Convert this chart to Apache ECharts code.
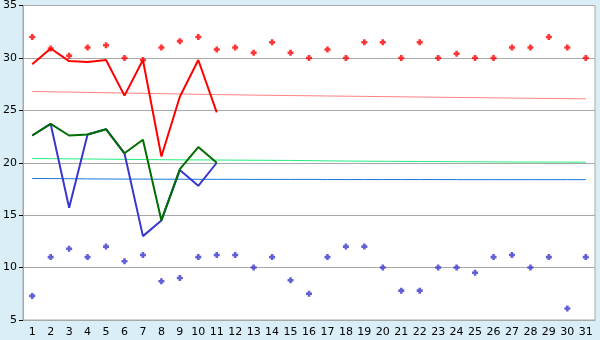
<!DOCTYPE html>
<html>
<head>
<meta charset="utf-8">
<script src="https://cdn.jsdelivr.net/npm/echarts@6/dist/echarts.min.js"></script>
<style>
html,body{margin:0;padding:0;background:#d9eef6;}
#chart{width:600px;height:340px;}
</style>
</head>
<body>
<div id="chart"></div>
<script>
var days = ['1','2','3','4','5','6','7','8','9','10','11','12','13','14','15','16','17','18','19','20','21','22','23','24','25','26','27','28','29','30','31'];
var yTicks = [5, 10, 15, 20, 25, 30, 35];

var maxDots = [32.0, 30.9, 30.2, 31.0, 31.2, 30.0, 29.8, 31.0, 31.6, 32.0, 30.8, 31.0, 30.5, 31.5, 30.5, 30.0, 30.8, 30.0, 31.5, 31.5, 30.0, 31.5, 30.0, 30.4, 30.0, 30.0, 31.0, 31.0, 32.0, 31.0, 30.0];
var minDots = [7.3, 11.0, 11.8, 11.0, 12.0, 10.6, 11.2, 8.7, 9.0, 11.0, 11.2, 11.2, 10.0, 11.0, 8.8, 7.5, 11.0, 12.0, 12.0, 10.0, 7.8, 7.8, 10.0, 10.0, 9.5, 11.0, 11.2, 10.0, 11.0, 6.1, 11.0];

var redLine = [29.4, 30.9, 29.7, 29.6, 29.8, 26.4, 29.8, 20.6, 26.3, 29.8, 24.8];
var greenLine = [22.6, 23.7, 22.6, 22.7, 23.2, 20.9, 22.2, 14.5, 19.4, 21.5, 20.0];
var blueLine = [22.6, 23.7, 15.7, 22.7, 23.2, 20.9, 13.0, 14.5, 19.3, 17.8, 20.0];

var pinkRef = [26.80, 26.77, 26.74, 26.71, 26.68, 26.65, 26.62, 26.59, 26.56, 26.53, 26.50, 26.48, 26.45, 26.43, 26.41, 26.39, 26.37, 26.35, 26.33, 26.31, 26.29, 26.27, 26.25, 26.23, 26.21, 26.19, 26.17, 26.15, 26.13, 26.11, 26.10];
var greenRef = [20.40, 20.39, 20.37, 20.36, 20.34, 20.32, 20.31, 20.29, 20.28, 20.27, 20.26, 20.25, 20.24, 20.23, 20.22, 20.20, 20.18, 20.16, 20.15, 20.14, 20.13, 20.12, 20.11, 20.10, 20.09, 20.08, 20.07, 20.07, 20.06, 20.06, 20.05];
var blueRef = [18.50, 18.49, 18.48, 18.46, 18.45, 18.44, 18.44, 18.43, 18.43, 18.42, 18.42, 18.42, 18.41, 18.41, 18.41, 18.41, 18.40, 18.40, 18.40, 18.40, 18.40, 18.40, 18.40, 18.39, 18.39, 18.39, 18.39, 18.39, 18.39, 18.39, 18.39];

var plus = 'path://M2,0L5,0L5,2L7,2L7,5L5,5L5,7L2,7L2,5L0,5L0,2L2,2Z';
var font = 'DejaVu Sans';

var chart = echarts.init(document.getElementById('chart'), null, {renderer: 'canvas'});
function lineSeries(data, color, width, z) {
  return {type: 'line', data: data, symbol: 'none', z: z, animation: false,
    lineStyle: {color: color, width: width}, itemStyle: {color: color}};
}
chart.setOption({
  backgroundColor: '#d9eef6',
  animation: false,
  grid: {left: 20, right: 5, top: 5, bottom: 20, show: true, backgroundColor: '#ffffff', borderColor: '#a8a8a8', borderWidth: 1},
  xAxis: {
    type: 'category', data: days, boundaryGap: true,
    axisLine: {lineStyle: {color: '#a8a8a8'}},
    axisTick: {alignWithLabel: true, length: 5, lineStyle: {color: '#000000'}},
    axisLabel: {color: '#000000', fontFamily: font, fontSize: 11, margin: 7, interval: 0},
    splitLine: {show: false}
  },
  yAxis: {
    type: 'value', min: yTicks[0], max: yTicks[yTicks.length - 1], interval: yTicks[1] - yTicks[0],
    axisLine: {show: true, lineStyle: {color: '#a8a8a8'}},
    axisTick: {show: true, length: 4, lineStyle: {color: '#000000'}},
    axisLabel: {color: '#000000', fontFamily: font, fontSize: 11, margin: 6},
    splitLine: {show: true, lineStyle: {color: '#a8a8a8', width: 1}}
  },
  series: [
    lineSeries(pinkRef, '#ff8080', 1, 1),
    lineSeries(greenRef, '#22ee80', 1, 1),
    lineSeries(blueRef, '#1a78dd', 1, 1),
    lineSeries(blueLine, '#3838cc', 2, 2),
    lineSeries(greenLine, '#006e00', 2, 3),
    lineSeries(redLine, '#ff0000', 2, 4),
    {type: 'scatter', data: maxDots, symbol: plus, symbolSize: 6, z: 5, itemStyle: {color: '#ff0000'}},
    {type: 'scatter', data: minDots, symbol: plus, symbolSize: 6, z: 5, itemStyle: {color: '#3838cc'}}
  ]
});
</script>
</body>
</html>
